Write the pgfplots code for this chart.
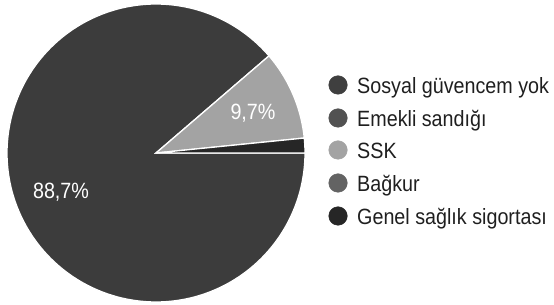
\documentclass[border=0pt]{standalone}
\usepackage{pgfplots}
\pgfplotsset{compat=1.18}
\usepackage{fontspec}
\setmainfont{Liberation Sans}
\definecolor{cSos}{HTML}{3F3F3F}
\definecolor{cEme}{HTML}{525252}
\definecolor{cSSK}{HTML}{A3A3A3}
\definecolor{cBag}{HTML}{636363}
\definecolor{cGen}{HTML}{262626}
\definecolor{cSosPie}{HTML}{3C3C3C}
\newcommand{\lt}[1]{\scalebox{1}[1.12]{\fontsize{19.8}{22}\selectfont #1}}
\begin{document}
\begin{tikzpicture}
\useasboundingbox (0,0) rectangle (554bp,305bp);
% percentages
\pgfmathsetmacro{\pA}{88.7}
\pgfmathsetmacro{\pB}{9.7}
\pgfmathsetmacro{\pC}{1.6}
\pgfmathsetmacro{\aA}{-3.6*\pA}
\pgfmathsetmacro{\aB}{\aA-3.6*\pB}
\pgfmathsetmacro{\aC}{\aB-3.6*\pC}
\begin{axis}[
  at={(0,0)}, anchor=south west,
  scale only axis, width=554bp, height=305bp,
  xmin=0, xmax=554, ymin=0, ymax=305,
  hide axis, clip=false,
]
\addplot[fill=cSosPie, draw=white, line width=1.3bp, domain=0:\aA, samples=150]
  ({156+149*cos(x)},{152+149*sin(x)}) -- (axis cs:156,152) -- cycle;
\addplot[fill=cSSK, draw=white, line width=1.3bp, domain=\aA:\aB, samples=30]
  ({156+149*cos(x)},{152+149*sin(x)}) -- (axis cs:156,152) -- cycle;
\addplot[fill=cGen, draw=white, line width=1.3bp, domain=\aB:\aC, samples=10]
  ({156+149*cos(x)},{152+149*sin(x)}) -- (axis cs:156,152) -- cycle;
\node[white] at (axis cs:61,113) {\lt{88,7\%}};
\node[white] at (axis cs:253,192) {\lt{9,7\%}};
% legend
\addplot[only marks, mark=*, mark size=9.3bp, cSos] coordinates {(338,220)};
\addplot[only marks, mark=*, mark size=9.3bp, cEme] coordinates {(338,187)};
\addplot[only marks, mark=*, mark size=9.3bp, cSSK] coordinates {(338,155)};
\addplot[only marks, mark=*, mark size=9.3bp, cBag] coordinates {(338,122)};
\addplot[only marks, mark=*, mark size=9.3bp, cGen] coordinates {(338,89)};
\node[anchor=base west, inner sep=0pt, text=black!88] at (axis cs:357,211.7) {\lt{Sosyal güvencem yok}};
\node[anchor=base west, inner sep=0pt, text=black!88] at (axis cs:357,178.7) {\lt{Emekli sandığı}};
\node[anchor=base west, inner sep=0pt, text=black!88] at (axis cs:357,146.7) {\lt{SSK}};
\node[anchor=base west, inner sep=0pt, text=black!88] at (axis cs:357,113.7) {\lt{Bağkur}};
\node[anchor=base west, inner sep=0pt, text=black!88] at (axis cs:357,80.7) {\lt{Genel sağlık sigortası}};
\end{axis}
\end{tikzpicture}
\end{document}
